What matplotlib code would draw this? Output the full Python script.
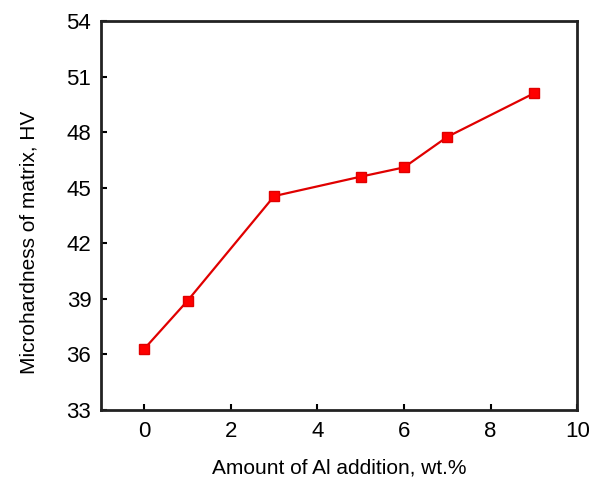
import matplotlib.pyplot as plt

al_wt = [0, 1, 3, 5, 6, 7, 9]
hardness = [36.3, 38.9, 44.55, 45.6, 46.1, 47.75, 50.1]

x_ticks = [0, 2, 4, 6, 8, 10]
y_ticks = [33, 36, 39, 42, 45, 48, 51, 54]

plt.rcParams['font.family'] = ['Liberation Sans', 'DejaVu Sans']

fig = plt.figure(figsize=(5.89, 4.8), dpi=100)
ax = fig.add_axes([0.1715, 0.146, 0.8085, 0.81])

ax.plot(al_wt, hardness, color='#e00000', linewidth=1.6,
        marker='s', markersize=7, markerfacecolor='#ff0000', markeredgecolor='#e00000')

ax.set_xlim(-1, 10)
ax.set_ylim(33, 54)
ax.set_xticks(x_ticks)
ax.set_yticks(y_ticks)
ax.tick_params(direction='in', length=4.5, width=1.5, labelsize=16,
               top=False, right=False)
ax.tick_params(axis='x', pad=8)
ax.tick_params(axis='y', pad=7)

for sp in ax.spines.values():
    sp.set_linewidth(2)
    sp.set_color('#222222')

ax.set_xlabel('Amount of Al addition, wt.%', fontsize=15)
ax.set_ylabel('Microhardness of matrix, HV', fontsize=15)
ax.xaxis.set_label_coords(0.5, -0.125)
ax.yaxis.set_label_coords(-0.132, 0.43)

fig.savefig('out.png', dpi=100)
